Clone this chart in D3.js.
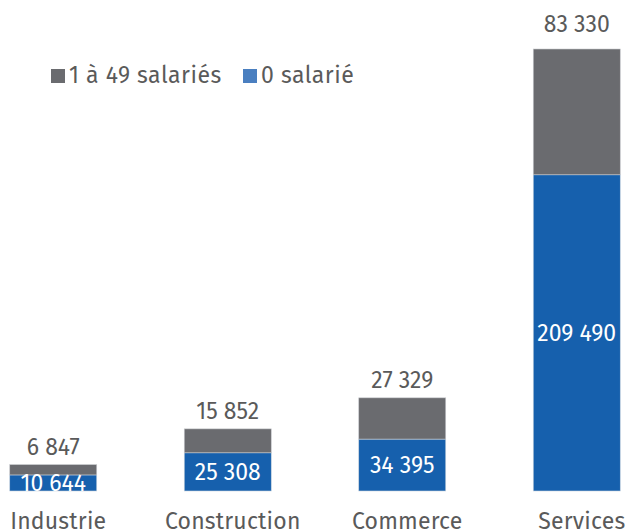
<!DOCTYPE html>
<html><head><meta charset="utf-8">
<script src="https://cdn.jsdelivr.net/npm/d3@7"></script>
<style>body{margin:0;background:#fff}svg{display:block}text{font-family:"Fira Sans","Open Sans","Noto Sans",sans-serif}</style>
</head><body>
<svg id="c" width="628" height="531"></svg>
<script>
const categories = ["Industrie", "Construction", "Commerce", "Services"];
const zeroSalarie = [10644, 25308, 34395, 209490];
const unA49 = [6847, 15852, 27329, 83330];
const seriesNames = ["1 à 49 salariés", "0 salarié"];

const svg = d3.select("#c");
const x = d3.scaleBand().domain(categories).range([-34, 664]).paddingInner(0.5).paddingOuter(0.25);
const totals = categories.map((c, i) => zeroSalarie[i] + unA49[i]);
const y = d3.scaleLinear().domain([0, d3.max(totals)]).range([491, 49]);
const fmt = v => d3.format(",")(v).replace(/,/g, " ");

const gray = "#6a6b6f", blue = "#1660ad", txt = "#5a5a5a";

const data = categories.map((c, i) => ({c, z: zeroSalarie[i], u: unA49[i], t: totals[i]}));
const g = svg.append("g");
const bw = 87;
const cx = c => x(c) + x.bandwidth() / 2;

g.selectAll("rect.b").data(data).join("rect").attr("class", "b")
  .attr("x", d => cx(d.c) - bw / 2).attr("width", bw)
  .attr("y", d => y(d.z)).attr("height", d => y(0) - y(d.z))
  .attr("fill", blue).attr("stroke", "#c9d3de").attr("stroke-width", 0.6);
g.selectAll("rect.g").data(data).join("rect").attr("class", "g")
  .attr("x", d => cx(d.c) - bw / 2).attr("width", bw)
  .attr("y", d => y(d.t)).attr("height", d => y(d.z) - y(d.t))
  .attr("fill", gray).attr("stroke", "#c9cbce").attr("stroke-width", 0.6);

// blue labels inside
g.selectAll("text.z").data(data).join("text").attr("class", "z")
  .attr("x", d => cx(d.c)).attr("y", d => (y(0) + y(d.z)) / 2 + 8)
  .attr("text-anchor", "middle").attr("fill", "#fff").attr("font-size", 23)
  .text(d => fmt(d.z));
// gray labels above
const maxT = d3.max(totals);
g.selectAll("text.u").data(data).join("text").attr("class", "u")
  .attr("x", d => cx(d.c)).attr("y", d => y(d.t) - (d.t === maxT ? 17 : 10))
  .attr("text-anchor", "middle").attr("fill", txt).attr("font-size", 23)
  .text(d => fmt(d.u));

// category labels
g.selectAll("text.cat").data(categories).join("text").attr("class", "cat")
  .attr("x", d => cx(d) + 5).attr("y", 529)
  .attr("text-anchor", "middle").attr("fill", txt).attr("font-size", 23)
  .attr("letter-spacing", 0.2)
  .text(d => d);

// legend
const leg = svg.append("g");
const legColors = [gray, "#4a7fc0"];
const lx = [51, 243];
seriesNames.forEach((s, i) => {
  leg.append("rect").attr("x", lx[i]).attr("y", 69).attr("width", 14).attr("height", 14).attr("fill", legColors[i]);
  leg.append("text").attr("x", lx[i] + 18).attr("y", 83).attr("fill", txt).attr("font-size", 23)
    .attr("letter-spacing", 0.5).text(s);
});
</script>
</body></html>
